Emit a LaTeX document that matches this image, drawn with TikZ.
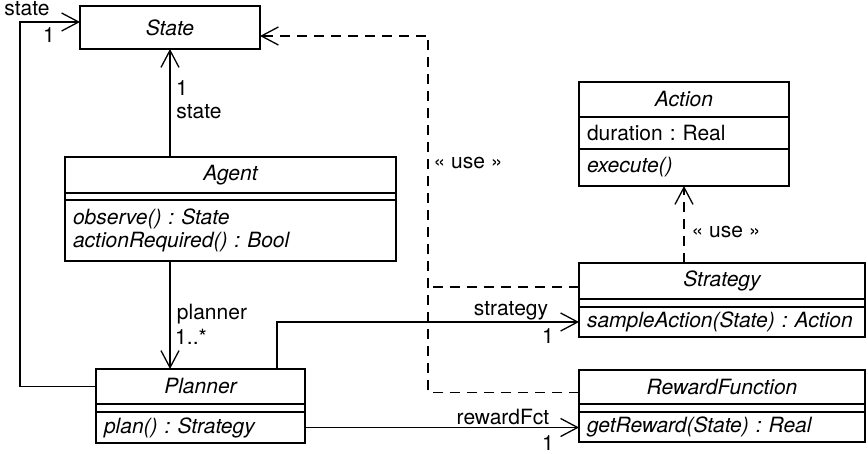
\documentclass[tikz,border=0pt]{standalone}
\usepackage{fontspec}
\setmainfont{TeX Gyre Heros}
\usetikzlibrary{positioning, arrows.meta}
\newcommand\umlfont{\fontsize{10.5}{11.5}\selectfont}
\frenchspacing

\begin{document}
\begin{tikzpicture}[x=.5pt, y=-.5pt, line width=.65pt, font=\umlfont,
	cname/.style={draw, font=\umlfont\itshape, minimum height=18pt, inner sep=0pt, outer sep=0pt},
	cpart/.style={draw, inner xsep=4pt, inner ysep=0pt, outer sep=0pt, align=left},
	cgap/.style={cpart, minimum height=4pt},
	assoc/.style={-{Straight Barb[length=8.5pt, width=9pt]}},
	dep/.style={dash pattern=on 5pt off 3.5pt, -{Straight Barb[length=8.5pt, width=9pt]}}]
	\useasboundingbox (0,0) rectangle (868,454);
	\node[cname, minimum width=90pt, minimum height=21.5pt, anchor=north west] (state) at (80,6) {State};
	\node[cname, minimum width=165.5pt, anchor=north west] (agent) at (65,157) {Agent};
	\node[cgap, minimum width=165.5pt, minimum height=3.5pt, below=0pt of agent] (agent-a) {};
	\node[cpart, below=0pt of agent-a, text width=157.5pt, minimum height=30.5pt, font=\umlfont\itshape] (agent-o) {observe() : State\\actionRequired() : Bool};
	\node[cname, minimum width=104.5pt, minimum height=17.5pt, anchor=north west] (planner) at (96,369) {Planner};
	\node[cgap, minimum width=104.5pt, below=0pt of planner] (planner-a) {};
	\node[cpart, below=0pt of planner-a, text width=96.5pt, minimum height=15.5pt, font=\umlfont\itshape] (planner-o) {plan() : Strategy};
	\node[cname, minimum width=105pt, minimum height=17.5pt, anchor=north west] (action) at (579,82) {Action};
	\node[cpart, below=0pt of action, text width=97pt, minimum height=16pt] (action-a) {duration : Real};
	\node[cpart, below=0pt of action-a, text width=97pt, minimum height=18.5pt, font=\umlfont\itshape] (action-o) {execute()};
	\node[cname, minimum width=143pt, anchor=north west] (strat) at (579,263) {Strategy};
	\node[cgap, minimum width=143pt, below=0pt of strat] (strat-a) {};
	\node[cpart, below=0pt of strat-a, text width=135pt, minimum height=15pt, font=\umlfont\itshape] (strat-o) {sampleAction(State) : Action};
	\node[cname, minimum width=143pt, minimum height=17pt, anchor=north west] (reward) at (579,370) {RewardFunction};
	\node[cgap, minimum width=143pt, below=0pt of reward] (reward-a) {};
	\node[cpart, below=0pt of reward-a, text width=135pt, minimum height=15pt, font=\umlfont\itshape] (reward-o) {getReward(State) : Real};

	\draw[assoc] (planner.west) -- ++(-76,0) |- ([yshift=2.75pt]state.west);
	\node (lstate0) at (27,9) {state};
	\node (lone0) at (49,35) {1};
	\draw[assoc] (state.south |- agent.north) -- (state.south);
	\node (lone1) at (182,88) {1};
	\node (lstate1) at (199,112) {state};
	\draw[assoc] (state.south |- agent-o.south) -- (state.south |- planner.north);
	\node (lplanner) at (212,314) {planner};
	\node (lmany) at (191,337) {1..*};
	\draw[assoc] ([xshift=-14pt]planner.north east) |- (strat-o.west);
	\node (lstrat) at (511,311) {strategy};
	\node (lone2) at (548,336) {1};
	\draw[assoc] (planner-o.east) -- (planner-o.east -| reward-o.west);
	\node (lreward) at (503,417) {rewardFct};
	\node (lone3) at (548,443) {1};
	\draw[dep] ([yshift=-2.75pt]reward.west) -- ++(-151,0) |- ([yshift=-4.25pt]state.east);
	\draw[dep, -] ([yshift=-3pt]strat.west) -- ++(-151,0);
	\node (luse0) at (468,163) {« use »};
	\draw[dep] (action-o.south |- strat.north) -- (action-o.south);
	\node (luse1) at (726,232) {« use »};
\end{tikzpicture}
\end{document}
